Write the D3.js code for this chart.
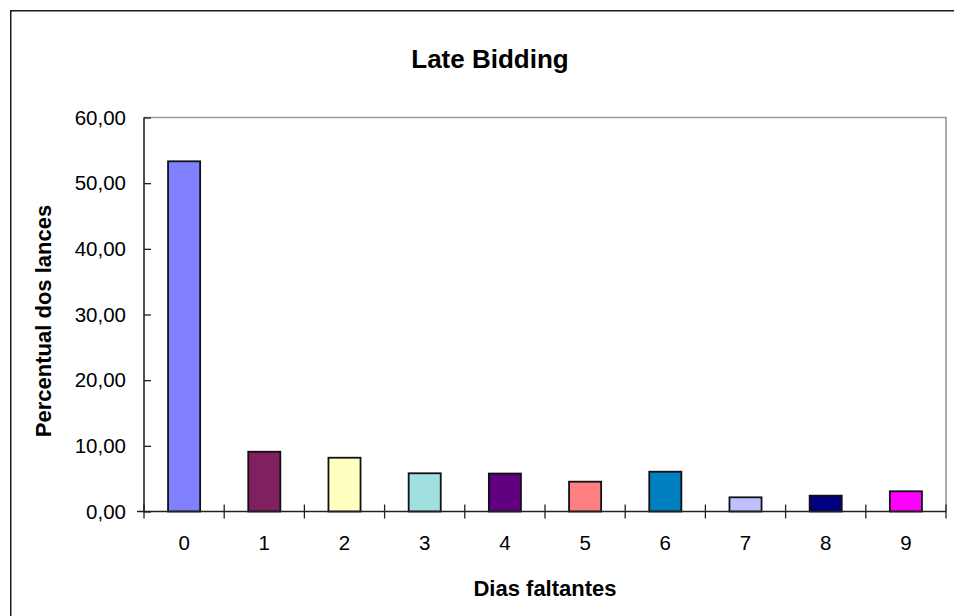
<!DOCTYPE html>
<html>
<head>
<meta charset="utf-8">
<script src="https://cdn.jsdelivr.net/npm/d3@7"></script>
<style>
  html, body { margin: 0; padding: 0; background: #fff; }
  svg { display: block; font-family: Arial, "Liberation Sans", sans-serif; }
</style>
</head>
<body>
<svg id="chart" width="954" height="616"></svg>
<script>
// Share of bids by days remaining before the auction closes
const dias = ["0", "1", "2", "3", "4", "5", "6", "7", "8", "9"];
const percentual = [53.33, 9.10, 8.19, 5.82, 5.78, 4.54, 6.06, 2.16, 2.41, 3.08];
const cores = ["#8080FF", "#802060", "#FFFFC0", "#A0E0E0", "#600080",
               "#FF8080", "#0080C0", "#C0C0FF", "#000080", "#FF00FF"];
const yTicks = [0, 10, 20, 30, 40, 50, 60];

const svg = d3.select("#chart");

// Chart area frame (runs past the right and bottom edges of the view)
svg.append("rect")
  .attr("x", 10.75).attr("y", 10.75)
  .attr("width", 1000).attr("height", 700)
  .attr("fill", "#fff")
  .attr("stroke", "#1a1a1a").attr("stroke-width", 1.5);

const plot = { left: 144, right: 946, top: 117.5, bottom: 511.5 };

const x = d3.scaleBand()
  .domain(dias)
  .range([plot.left, plot.right])
  .paddingInner(0.6)
  .paddingOuter(0.3);

const y = d3.scaleLinear()
  .domain([0, 60])
  .range([plot.bottom, plot.top]);

const ptBR = d3.formatLocale({ decimal: ",", thousands: ".", grouping: [3], currency: ["R$", ""] });
const fmt = ptBR.format(".2f");

// Plot area border (top and right sides)
svg.append("path")
  .attr("d", `M${plot.left},${plot.top}H${plot.right}V${plot.bottom}`)
  .attr("fill", "none")
  .attr("stroke", "#999").attr("stroke-width", 1.6);

// Bars
svg.append("g").selectAll("rect")
  .data(percentual)
  .join("rect")
  .attr("x", (d, i) => x(dias[i]))
  .attr("y", d => y(d))
  .attr("width", x.bandwidth())
  .attr("height", d => y(0) - y(d))
  .attr("fill", (d, i) => cores[i])
  .attr("stroke", "#111")
  .attr("stroke-width", 1.8);

// Y axis with crossing tick marks
const yAxis = svg.append("g")
  .attr("transform", `translate(${plot.left},0)`)
  .call(d3.axisLeft(y).tickValues(yTicks).tickFormat(fmt).tickSize(7).tickPadding(11));
yAxis.select(".domain").remove();
yAxis.selectAll(".tick line").attr("x2", 7).attr("stroke", "#222").attr("stroke-width", 1.3);
yAxis.selectAll(".tick text")
  .attr("font-size", 20.5).attr("fill", "#000")
  .attr("font-family", "Arial, 'Liberation Sans', sans-serif");
yAxis.append("line")
  .attr("x1", 0).attr("x2", 0)
  .attr("y1", plot.top).attr("y2", plot.bottom)
  .attr("stroke", "#222").attr("stroke-width", 1.6);

// X axis: labels under each category, ticks on category boundaries
const xAxis = svg.append("g")
  .attr("transform", `translate(0,${plot.bottom})`)
  .call(d3.axisBottom(x).tickSize(0).tickPadding(24));
xAxis.select(".domain").remove();
xAxis.selectAll(".tick text")
  .attr("font-size", 20.5).attr("fill", "#000")
  .attr("font-family", "Arial, 'Liberation Sans', sans-serif");

const boundaries = d3.range(dias.length + 1);
xAxis.selectAll(".bound")
  .data(boundaries)
  .join("line")
  .attr("class", "bound")
  .attr("x1", i => plot.left + i * x.step())
  .attr("x2", i => plot.left + i * x.step())
  .attr("y1", -7).attr("y2", 7)
  .attr("stroke", "#222").attr("stroke-width", 1.3);
xAxis.append("line")
  .attr("x1", plot.left - 7).attr("x2", plot.right)
  .attr("y1", 0).attr("y2", 0)
  .attr("stroke", "#222").attr("stroke-width", 1.6);

// Titles
svg.append("text")
  .attr("x", 490).attr("y", 68)
  .attr("text-anchor", "middle")
  .attr("font-size", 26).attr("font-weight", "bold")
  .text("Late Bidding");

svg.append("text")
  .attr("x", (plot.left + plot.right) / 2).attr("y", 596)
  .attr("text-anchor", "middle")
  .attr("font-size", 22).attr("font-weight", "bold")
  .text("Dias faltantes");

svg.append("text")
  .attr("transform", `translate(51,321) rotate(-90)`)
  .attr("text-anchor", "middle")
  .attr("font-size", 22).attr("font-weight", "bold")
  .text("Percentual dos lances");
</script>
</body>
</html>
